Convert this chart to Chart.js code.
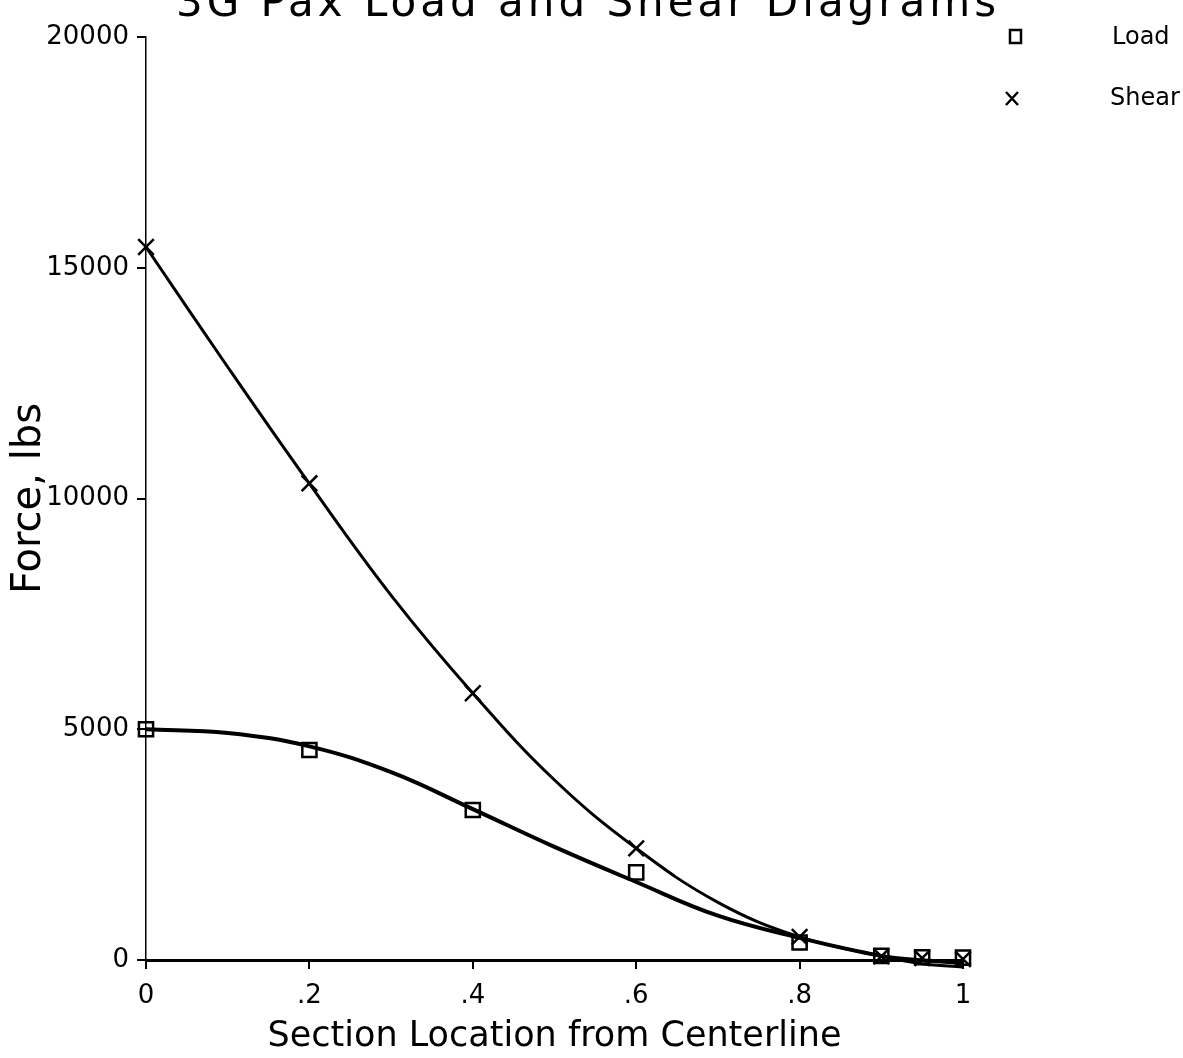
<!DOCTYPE html>
<html>
<head>
<meta charset="utf-8">
<script src="https://cdn.jsdelivr.net/npm/chart.js@4.4.1/dist/chart.umd.min.js"></script>
<style>
  html, body { margin: 0; padding: 0; background: #fff; }
  #wrap { width: 1183px; height: 1058px; position: relative; }
</style>
</head>
<body>
<div id="wrap"><canvas id="c" width="1183" height="1058"></canvas></div>
<script>
// Section locations where load and shear were computed
const sectionX = [0, 0.2, 0.4, 0.6, 0.8, 0.9, 0.95, 1.0];
const loadValues = [5000, 4550, 3250, 1900, 380, 90, 60, 50];
const shearValues = [15450, 10330, 5780, 2420, 500, 80, 40, 20];

// Smoothed fit curves through the computed sections
const curveX = [0, 0.1, 0.2, 0.3, 0.4, 0.5, 0.6, 0.7, 0.8, 0.9, 0.95, 1.0];
const loadCurve = [5000, 4920, 4630, 4070, 3270, 2450, 1690, 960, 480, 90, -5, -60];
const shearCurve = [15450, 12850, 10320, 7900, 5780, 3900, 2420, 1250, 500, 85, -80, -150];

const xTickLabels = ['0', '.2', '.4', '.6', '.8', '1'];
const yTickValues = [0, 5000, 10000, 15000, 20000];

const titleText = '3G Pax Load and Shear Diagrams';
const seriesNames = ['Load', 'Shear'];

const FONT = '"DejaVu Sans", sans-serif';

const pts = (xs, ys) => xs.map((x, i) => ({ x: x, y: ys[i] }));

// Title (runs off the top edge) and the marker key on the right
const decorations = {
  id: 'decorations',
  afterDraw(chart) {
    const ctx = chart.ctx;
    ctx.save();
    ctx.fillStyle = '#000';
    ctx.strokeStyle = '#000';
    ctx.font = '42px ' + FONT;
    ctx.letterSpacing = '4px';
    ctx.textAlign = 'center';
    ctx.textBaseline = 'alphabetic';
    ctx.fillText(titleText, 588, 16);
    ctx.letterSpacing = '0px';

    // key: square for load, x for shear
    ctx.lineWidth = 2.5;
    ctx.strokeRect(1010, 30, 11, 13);
    ctx.beginPath();
    ctx.moveTo(1006, 92); ctx.lineTo(1018, 105);
    ctx.moveTo(1018, 92); ctx.lineTo(1006, 105);
    ctx.stroke();
    ctx.font = '24px ' + FONT;
    ctx.textAlign = 'left';
    ctx.textBaseline = 'middle';
    ctx.fillText(seriesNames[0], 1112, 38);
    ctx.fillText(seriesNames[1], 1110, 99);
    ctx.restore();
  }
};

new Chart(document.getElementById('c'), {
  type: 'scatter',
  data: {
    datasets: [
      {
        label: seriesNames[0] + ' fit',
        type: 'line',
        data: pts(curveX, loadCurve),
        borderColor: '#000',
        borderWidth: 4,
        pointRadius: 0,
        tension: 0.4,
        clip: false,
        fill: false
      },
      {
        label: seriesNames[1] + ' fit',
        type: 'line',
        data: pts(curveX, shearCurve),
        borderColor: '#000',
        borderWidth: 3,
        pointRadius: 0,
        tension: 0.4,
        clip: false,
        fill: false
      },
      {
        label: seriesNames[0],
        data: pts(sectionX, loadValues),
        pointStyle: 'rect',
        pointRadius: 10,
        borderColor: '#000',
        backgroundColor: 'rgba(0,0,0,0)',
        pointBorderWidth: 2.5,
        clip: false,
        showLine: false
      },
      {
        label: seriesNames[1],
        data: pts(sectionX, shearValues),
        pointStyle: 'crossRot',
        pointRadius: 11,
        borderColor: '#000',
        backgroundColor: '#000',
        pointBorderWidth: 2.5,
        clip: false,
        showLine: false
      }
    ]
  },
  options: {
    responsive: false,
    animation: false,
    layout: { padding: { top: 37, right: 220, left: 0, bottom: 0 } },
    plugins: {
      legend: { display: false },
      tooltip: { enabled: false },
      title: { display: false }
    },
    scales: {
      x: {
        type: 'linear',
        min: 0,
        max: 1,
        afterFit(scale) { scale.height = 98; },
        afterBuildTicks(scale) {
          scale.ticks = xTickLabels.map((_, i) => ({ value: i * 0.2 }));
        },
        ticks: {
          color: '#000',
          font: { family: FONT, size: 26 },
          padding: 12,
          maxRotation: 0,
          callback: (v, i) => xTickLabels[i]
        },
        grid: {
          drawOnChartArea: false,
          drawTicks: true,
          tickLength: 9,
          color: '#000',
          lineWidth: 2
        },
        border: { display: true, color: '#000', width: 3 },
        title: {
          display: true,
          text: 'Section Location from Centerline',
          color: '#000',
          font: { family: FONT, size: 35 },
          padding: { top: -12, bottom: 0 }
        }
      },
      y: {
        type: 'linear',
        min: 0,
        max: 20000,
        afterFit(scale) { scale.width = 146; },
        afterBuildTicks(scale) {
          scale.ticks = yTickValues.map(v => ({ value: v }));
        },
        ticks: {
          color: '#000',
          font: { family: FONT, size: 26 },
          padding: 8,
          callback: v => String(v)
        },
        grid: {
          drawOnChartArea: false,
          drawTicks: true,
          tickLength: 9,
          color: '#000',
          lineWidth: 2
        },
        border: { display: true, color: '#000', width: 1.5, dash: [2, 6] },
        title: {
          display: true,
          text: 'Force, lbs',
          color: '#000',
          font: { family: FONT, size: 40 },
          padding: { top: 6, bottom: 0 }
        }
      }
    }
  },
  plugins: [decorations]
});
</script>
</body>
</html>
